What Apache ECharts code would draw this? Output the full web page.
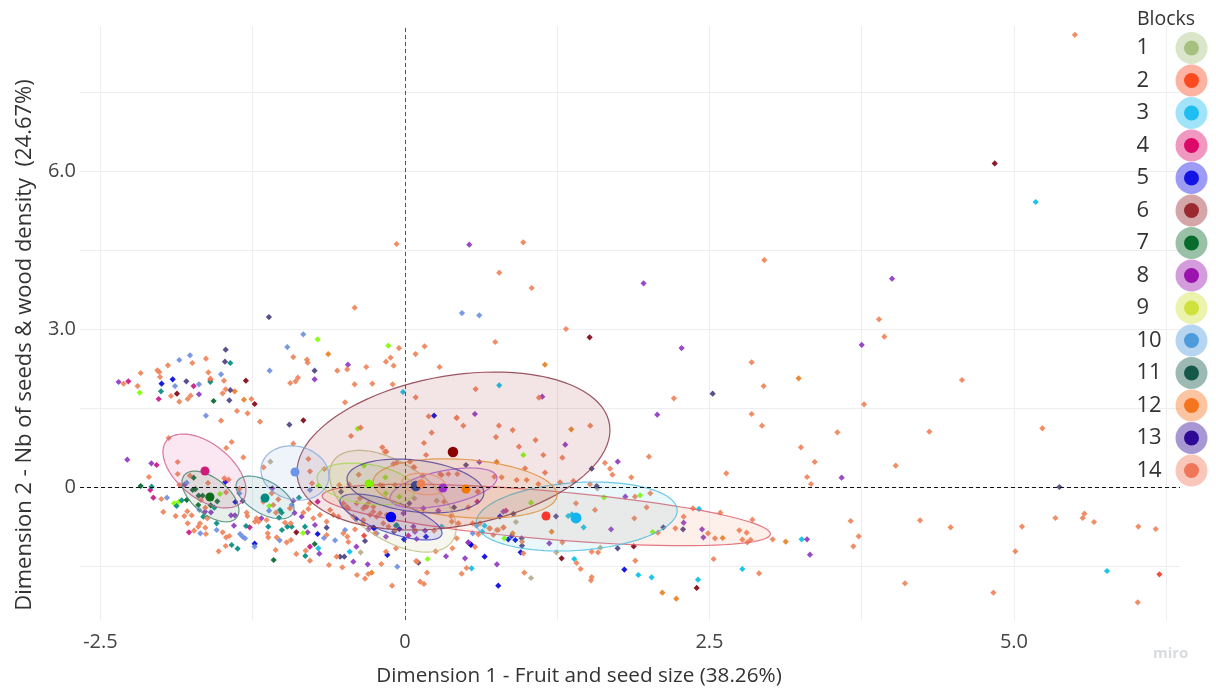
<!DOCTYPE html>
<html>
<head>
<meta charset="utf-8">
<style>html,body{margin:0;padding:0;background:#fff}#c{width:1216px;height:691px}</style>
<script src="https://cdn.jsdelivr.net/npm/echarts@6/dist/echarts.min.js"></script>
</head>
<body>
<div id="c"></div>
<script>
const blocks = ['1','2','3','4','5','6','7','8','9','10','11','12','13','14'];
const xGridValues = [-2.5,-1.25,0,1.25,2.5,3.75,5,6.25];
const yGridValues = [-1.5,0,1.5,3,4.5,6,7.5];
const xLabelValues = [-2.5,0,2.5,5];
const yLabelValues = [0,3,6];

const legendColors = ['#a7c080','#fb4b1f','#1fbdf0','#dc0a6a','#1414e6','#9a2a2f','#0a6b2b','#9a14ad','#cfe23c','#4f9bdc','#15574a','#f5751f','#2d0a96','#f0765a'];
const pointColors = ['#b8a888','#f03a30','#00bfe8','#c71585','#0000dd','#800010','#006428','#8e35c0','#7fff00','#6a8fe0','#008b80','#e88020','#483d80','#ef8157'];
const centroidColors = ['#a7b070','#f8382c','#12b5f0','#cf1a7a','#0000f0','#8b0000','#0a6b18','#9a30c8','#80f000','#6a95e8','#008b80','#f07800','#3c4a90','#f08050'];
const ellipseColors = ['#c0c088','#e0606e','#50c0e0','#d06090','#4848c8','#8a3848','#4a8868','#a858d8','#a8d850','#88aee0','#488c8c','#e09040','#584898','#e89070'];
const ellipseFills = ['#b8b880','#f07850','#40bce0','#d84890','#4040c8','#a03038','#3f8060','#b050d8','#a8d850','#80a8e0','#408888','#e88a30','#504090','#e89070'];
const ellipseAlpha = [0.13,0.12,0.11,0.13,0.13,0.13,0.13,0.09,0.12,0.13,0.13,0.12,0.08,0.1];

// ellipse: centre x, centre y, half width, y offset at the right extreme, half chord at centre
const ell1 = [-0.10,-0.27,0.52,-0.51,0.82];
const ell2 = [1.16,-0.53,1.84,-0.36,0.46];
const ell3 = [1.41,-0.56,0.825,0.114,0.645];
const ell4 = [-1.646,0.304,0.341,-0.361,0.602];
const ell5 = [-0.115,-0.569,0.419,-0.304,0.313];
const ell6 = [0.398,0.683,1.285,0.398,1.445];
const ell7 = [-1.597,-0.18,0.234,-0.266,0.40];
const ell8 = [0.316,-0.019,0.439,0.19,0.329];
const ell9 = [-0.32,0.057,0.402,-0.114,0.38];
const ell10 = [-0.903,0.266,0.279,-0.057,0.512];
const ell11 = [-1.149,-0.199,0.238,-0.218,0.342];
const ell12 = [0.493,-0.028,0.755,-0.123,0.55];
const ell13 = [0.086,0.019,0.562,-0.133,0.493];
const ell14 = [0.156,0.057,0.18,-0.04,0.2];
const ellipses = [ell1,ell2,ell3,ell4,ell5,ell6,ell7,ell8,ell9,ell10,ell11,ell12,ell13,ell14];

const centroids = [[-0.115,-0.569],[1.158,-0.55],[1.404,-0.588],[-1.642,0.304],[-0.115,-0.569],[0.394,0.664],[-1.601,-0.19],[0.312,-0.019],[-0.296,0.057],[-0.903,0.285],[-1.149,-0.209],[0.501,-0.038],[0.09,0.019],[0.131,0.057]];

const pts1 = [[-1.105,0.481],[1.579,-0.025],[0.911,-0.664],[0.077,-0.215],[0.26,-0.259],[1.243,-1.239],[1.604,-1.151],[1.035,-1.727],[-0.364,-1.24]];
const pts2 = [[6.194,-1.657],[-1.598,2.03],[-0.336,-0.923]];
const pts3 = [[5.178,5.408],[0.774,1.929],[-0.016,1.803],[3.257,-0.993],[5.764,-1.594],[2.414,-0.417],[1.467,-0.765],[1.34,-0.55],[1.37,-0.52],[0.654,-0.734],[0.635,-0.847],[1.39,-1.366],[1.916,-1.67],[2.025,-1.714],[2.406,-1.758],[2.77,-1.556],[0.547,-1.543],[0.301,-0.752],[-0.711,-1.164],[-0.454,-1.227]];
const pts4 = [[-2.271,2.005],[-1.735,1.916],[-2.022,1.67],[-2.039,0.417],[-2.091,-0.057],[-2.066,-0.202],[-1.773,-0.86],[-1.275,-0.765],[-0.78,-1.132],[-0.717,-0.278],[0.028,-0.923],[0.594,-0.278],[0.829,-0.449]];
const pts5 = [[-1.998,1.961],[-1.907,2.043],[-1.475,0.095],[-1.393,-0.285],[-1.234,-1.075],[-0.717,-0.892],[-0.402,-0.607],[-0.26,-0.772],[-0.145,-1.29],[-0.046,-0.797],[-0.008,-0.993],[0.173,-0.942],[0.239,1.354],[0.54,-1.088],[0.78,-0.556],[0.848,-0.993],[0.876,-0.93],[0.906,-1.006],[0.95,-1.239],[0.654,-1.322],[0.542,-1.1],[0.766,-1.872],[1.801,-1.568],[-0.251,-0.784]];
const pts6 = [[4.842,6.141],[1.516,2.84],[-1.306,2.017],[-1.872,1.771],[-1.234,1.575],[-0.834,1.265],[-0.892,-0.86],[1.286,-1.353],[1.878,-1.126],[2.395,-1.916]];
const pts7 = [[-1.571,1.632],[-2.17,0.019],[-1.735,0.177],[-1.743,-0.057],[-1.72,-0.04],[-1.694,-0.165],[-1.661,-0.165],[-1.792,-0.247],[-1.697,-0.342],[-1.541,-0.272],[-1.595,-0.348],[-1.078,-1.385],[-0.741,-1.082]];
const pts8 = [[3.999,3.953],[3.75,2.695],[3.585,0.177],[3.301,-0.993],[3.325,-1.284],[0.528,4.598],[1.127,1.714],[1.959,3.864],[2.271,2.637],[2.071,1.372],[0.574,1.385],[1.316,0.803],[-0.742,2.043],[-0.468,2.321],[-2.351,1.992],[-1.691,1.758],[-2.28,0.519],[-2.082,0.449],[-1.809,0.044],[-1.642,-0.468],[-1.593,-0.481],[-1.404,-0.734],[-1.428,-0.538],[-1.396,-0.538],[-1.089,-0.025],[-1.179,-0.595],[-0.917,-0.259],[-0.906,-0.493],[-0.848,-0.563],[-0.799,-0.86],[-0.703,-1.265],[-0.739,-0.721],[-0.399,-1.132],[-0.424,-1.417],[-0.306,-1.468],[-0.301,-0.803],[-0.156,-0.943],[-0.013,-0.5],[0.082,-0.848],[-0.328,-0.373],[0.069,-0.752],[0.096,-0.987],[0.165,-0.828],[0.151,-0.405],[0.274,-0.449],[0.611,0.474],[1.747,0.481],[0.52,-1.05],[0.337,-1.315],[0.493,-1.353],[0.52,-1.056],[0.807,-0.468],[0.755,-1.467],[1.185,-1.069],[1.692,-0.803],[1.809,-0.183],[2.288,-0.677],[2.439,-0.803],[2.45,-0.955]];
const pts9 = [[-0.717,2.802],[-0.137,2.682],[-2.178,1.79],[-1.519,-0.133],[-1.896,-0.31],[-1.858,-0.285],[-1.114,-0.361],[-0.837,-0.873],[-0.711,0.025],[-0.388,1.107],[-0.336,0.405],[-0.161,0.184],[-0.158,-0.12],[-0.046,-0.183],[0.186,-1.366],[0.972,0.607],[1.035,-0.297],[0.816,-0.974],[1.634,-0.196],[1.93,-0.158],[2.034,-0.854]];
const pts10 = [[0.468,3.301],[0.61,3.257],[-0.835,2.897],[-0.966,2.656],[-1.111,2.207],[-1.765,2.498],[-1.853,2.41],[-1.51,2.138],[-1.888,1.916],[-1.691,1.948],[-1.634,1.353],[-1.792,0.082],[-1.954,-0.202],[-1.36,-0.12],[-1.688,-0.437],[-1.68,-0.879],[-1.546,-0.816],[-1.354,-0.892],[-1.333,-0.943],[-1.313,-0.974],[-1.234,-1.132],[-1.116,-0.449],[-1.029,-1.012],[-0.93,-0.342],[-0.78,-0.057],[-0.665,-0.968],[-0.574,-1.012],[-0.492,-0.816],[-0.063,-1.512],[0.556,-0.879],[0.588,-0.734],[-0.232,-0.879]];
const pts11 = [[-1.434,2.353],[-2.003,1.815],[-1.598,1.992],[-2.08,0.006],[-1.833,-0.253],[-1.875,-0.361],[-1.565,-0.392],[-1.656,-0.563],[-1.546,-0.689],[-1.423,-1.101],[-1.374,-1.17],[-1.305,-0.74],[-1.122,-0.753],[-1.026,-0.437],[-1.012,-0.487],[-1.034,-0.582],[-0.87,-0.202],[-1.01,-0.816],[-0.966,-0.753],[-0.93,-0.753],[-0.821,-0.753],[-0.818,-1.309],[-0.074,-0.734],[-0.068,-0.721]];
const pts12 = [[3.232,2.062],[3.126,-1.037],[1.149,2.321],[1.365,1.094],[-0.63,2.523],[-1.398,1.815],[-1.322,1.657],[-0.273,-1.626],[0.753,0.475],[1.204,-0.847],[0.884,-0.879],[2.608,-0.968],[2.113,-2.005],[2.228,-2.119]];
const pts13 = [[5.373,0],[2.526,1.771],[-1.117,3.225],[-0.742,2.207],[-1.472,2.606],[-1.478,2.378],[-1.795,2.005],[-1.434,1.84],[-1.442,1.644],[-0.949,1.183],[-1.333,-0.266],[-0.643,-0.772],[-0.533,-1.322],[-0.498,-1.322],[-0.328,-1.025],[-0.09,-0.848],[0.11,-1.436],[-0.525,-0.088],[0.036,-0.31],[0.501,0.417],[0.403,-0.386],[1.533,0.348],[1.574,0.019],[0.89,-0.512],[0.961,-1.113],[1.24,-0.556],[1.746,-1.164],[2.121,-0.765],[2.283,-0.803],[0.958,-0.974]];
const pts14 = [[5.5,8.58],[3.892,3.181],[3.936,2.853],[4.573,2.03],[3.769,1.569],[3.55,1.037],[4.305,1.05],[5.233,1.113],[3.251,0.753],[3.364,0.475],[4.029,0.405],[3.301,0.19],[3.334,0.057],[3.659,-0.645],[4.229,-0.632],[4.48,-0.765],[5.066,-0.752],[5.34,-0.588],[5.564,-0.588],[5.578,-0.506],[5.657,-0.664],[6.021,-0.752],[6.164,-0.797],[3.725,-0.936],[3.681,-1.126],[5.011,-1.221],[4.105,-1.828],[4.831,-2.005],[6.016,-2.188],
[0.971,4.642],[0.774,4.067],[1.04,3.776],[1.322,2.998],[0.741,2.751],[0.58,1.859],[1.1,1.695],[2.95,4.307],[2.846,2.365],[2.945,1.916],[2.208,1.682],[2.846,1.385],[2.931,1.164],[0.424,1.309],[0.479,1.164],[0.771,1.164],[0.884,1.081],[0.747,0.948],[1.072,0.891],[1.521,1.164],[0.936,0.765],[0.284,2.277],
[-0.069,4.611],[-0.413,3.403],[-0.917,2.466],[-0.805,2.416],[-0.799,2.359],[-0.049,2.637],[0.161,2.669],[0.087,2.523],[-0.118,2.454],[-0.156,2.378],[-0.093,2.302],[-0.474,2.232],[-0.318,2.277],[-0.556,2.207],[-0.879,2.074],[-0.898,2.005],[-0.942,1.973],[-0.413,1.948],[-0.268,1.96],[-0.101,1.948],
[-1.746,2.353],[-1.634,2.435],[-1.946,2.309],[-2.17,2.163],[-2.033,2.214],[-2.017,2.182],[-2.011,2.087],[-2.31,1.961],[-2.195,1.916],[-1.614,2.176],[-1.598,2.055],[-1.486,2.018],[-1.921,1.727],[-1.853,1.619],[-1.784,1.67],[-1.76,1.733],[-1.472,1.853],[-1.497,1.777],[-1.261,1.67],[-1.379,1.442],[-1.292,1.398],[-1.51,1.259],[-1.19,1.24],[-0.364,1.126],[-0.492,1.606],[-0.443,0.968],[-1.94,0.93],[-1.423,0.854],[-1.467,0.74],[-1.327,0.563],[-1.866,0.474],[-2.102,0.19],[-1.866,0.247],[-2,-0.228],[-1.16,0.373],[-0.917,0.822],[-0.793,0.531],[-0.78,0.297],[-0.662,0.341],[-0.763,0.069],[-0.38,0.234],[-0.186,0.753],[-0.153,0.67],[-0.068,0.462],[0.088,1.701],
[-1.765,0.215],[-1.483,0.164],[-1.448,0.139],[-1.617,0.076],[-1.853,0.038],[-1.62,-0.196],[-1.469,-0.101],[-1.36,-0.038],[-1.675,-0.247],[-1.984,-0.474],[-1.883,-0.551],[-1.812,-0.551],[-1.787,-0.462],[-1.751,-0.538],[-1.639,-0.392],[-1.623,-0.595],[-1.784,-0.689],[-1.683,-0.689],[-1.639,-0.772],[-1.697,-0.753],[-1.732,-0.829],[-1.634,-0.892],[-1.497,-0.86],[-1.469,-0.955],[-1.442,-0.93],[-1.472,-1.12],[-1.53,-1.221],
[-1.094,-0.12],[-1.3,-0.487],[-1.294,-0.551],[-1.163,-0.278],[-1.081,-0.342],[-1.04,-0.234],[-1.059,-0.487],[-0.944,-0.405],[-1.218,-0.595],[-1.231,-0.658],[-1.201,-0.658],[-1.136,-0.626],[-0.985,-0.677],[-0.938,-0.689],[-1.127,-0.879],[-1.122,-0.955],[-1.053,-0.955],[-1.062,-1.196],[-0.971,-1.05],[-0.936,-1.006],[-0.892,-1.271],[-0.78,-1.398],[-0.815,-1.208],[-0.624,-1.48],[-0.561,-1.322],[-0.514,-1.524],[-0.394,-1.67],[-0.328,-1.739],[-0.301,-1.651],[-0.194,-1.461],[-0.106,-1.872],[-0.156,-1.227],[-0.074,-1.164],[0.091,-1.404],[-0.752,-0.595],[-0.643,-0.911],[-0.506,-0.879],[-0.473,-0.943],[-0.465,-1.044],[-0.41,-0.803],[-0.246,-0.879],[-0.793,-0.417],[-0.834,-0.487],[-0.78,-0.31],[-0.698,-0.531],[-0.643,-0.658],[-0.615,-0.437],[-0.588,-0.531],[-0.547,-0.563],[-0.342,-0.689],[-0.424,-0.563],[-0.479,-0.373],[-0.315,-0.373],[-0.26,-0.468],[-0.396,-0.31],
[0.195,1.341],[0.425,1.316],[0.219,1.031],[0.156,0.835],[0.173,0.607],[1.136,0.607],[1.292,0.557],[1.642,0.456],[1.684,0.348],[1.703,0.234],[0.986,0.354],[1.15,0.272],[0.917,0.133],[0.999,0.133],[0.794,0.184],[0.734,0.196],[1.095,0.057],[1.273,0.089],[1.383,0.114],[0.301,0.228],[0.288,0.247],[0.43,0.247],[0.356,0.247],[0.069,0.373],[-0.095,0.437],[-0.164,0.671],[-0.539,0.038],[-0.459,0.051],[-0.369,-0.215],[-0.205,0.038],[-0.082,0.038],[-0.186,0.025],[0.137,0.095],[0.145,0.215],[0.041,0.481],[0.077,0.373],[0.597,-0.089],[0.321,-0.278],[0.52,-0.386],[0.378,-0.55],[0.438,-0.689],
[-0.506,-0.31],[-0.465,-0.405],[-0.342,-0.405],[-0.301,-0.31],[-0.26,-0.373],[-0.205,-0.499],[-0.287,-0.531],[-0.232,-0.563],[-0.15,-0.531],[-0.095,-0.626],[-0.178,-0.689],[-0.136,-0.752],[-0.082,-0.816],[0.082,-0.816],[0.239,-0.828],[-0.342,-0.626],[0.384,-0.658],[0.425,-0.974],[0.252,-1.221],[0.389,-1.164],[0.616,-0.689],[0.698,-0.784],[0.753,-0.816],[0.808,-0.771],
[2.003,0.576],[1.858,0.184],[2.638,0.26],[1.519,0.051],[1.888,-0.183],[2.014,-0.12],[1.404,-0.31],[1.56,-0.436],[1.984,-0.386],[1.883,-0.594],[2.365,-0.405],[2.589,-0.487],[2.288,-0.563],[2.22,-0.784],[2.852,-0.62],[2.488,-0.879],[2.545,-0.974],[2.745,-0.822],[2.805,-0.866],[2.77,-1],[2.811,-1.05],[2.838,-1.005],[3.019,-0.993],[1.292,-1.05],[2.077,-0.866],[0.725,-0.911],[0.81,-0.765],[0.766,-0.816],[0.692,-0.784],[0.602,-0.898],[0.961,-1.037],[0.972,-1.258],[1.409,-1.442],[1.442,-1.556],[1.533,-1.227],[1.585,-1.239],[1.891,-1.398],[1.533,-1.708],[1.527,-1.771],[2.534,-1.366],[2.907,-1.638],[0.98,-1.625],[0.506,-1.537],[0.465,-1.644],[0.575,-1.138],[0.599,-0.088],[0.556,-0.689],[0.099,-1.417],[0.181,-1.625],[0.124,-1.796],[0.156,-1.84]];
const pointSets = [pts1,pts2,pts3,pts4,pts5,pts6,pts7,pts8,pts9,pts10,pts11,pts12,pts13,pts14];

function ellipseRenderer(stroke, fill, alpha){
  return function(params, api){
    const cx=api.value(0), cy=api.value(1), w=api.value(2), s=api.value(3), k=api.value(4);
    const points=[];
    for(let i=0;i<96;i++){
      const t=i/96*Math.PI*2;
      points.push(api.coord([cx+w*Math.cos(t), cy+s*Math.cos(t)+k*Math.sin(t)]));
    }
    return {type:'polygon',shape:{points},style:{fill:fill,fillOpacity:alpha,stroke:stroke,strokeOpacity:0.85,lineWidth:1.2}};
  };
}

const series=[];
// points are drawn behind the translucent ellipses
blocks.forEach((b,i)=>{
  series.push({type:'scatter',name:b,data:pointSets[i],symbol:'diamond',symbolSize:6.2,z:2,silent:true,itemStyle:{color:pointColors[i],opacity:0.9}});
});
blocks.forEach((b,i)=>{
  series.push({type:'custom',name:b,data:[ellipses[i]],renderItem:ellipseRenderer(ellipseColors[i],ellipseFills[i],ellipseAlpha[i]),z:3,silent:true,clip:true,itemStyle:{color:legendColors[i]},animation:false});
});
blocks.forEach((b,i)=>{
  series.push({type:'scatter',name:b,data:[centroids[i]],symbol:'circle',symbolSize:b==='3'?11:(b==='6'||b==='5'||b==='13'?10.5:9),z:4,silent:true,itemStyle:{color:centroidColors[i],opacity:1}});
});
series.push({type:'scatter',name:'ref',data:[],z:5,silent:true,markLine:{silent:true,symbol:'none',label:{show:false},animation:false,
  data:[{yAxis:0,lineStyle:{color:'#111',type:[4,3],width:1}},{xAxis:0,lineStyle:{color:'#555',type:[4,3],width:1}}]}});

const font='"Open Sans", sans-serif';
const chart=echarts.init(document.getElementById('c'),null,{renderer:'canvas'});
chart.setOption({
  animation:false,
  backgroundColor:'#fff',
  textStyle:{fontFamily:font},
  title:{text:'Blocks',left:1137,top:9,padding:0,textStyle:{fontSize:19.5,fontWeight:'normal',color:'#333',fontFamily:font}},
  legend:{
    orient:'vertical',right:8.5,top:32,padding:0,align:'right',icon:'circle',itemWidth:15,itemHeight:15,itemGap:0.5,selectedMode:false,
    data:blocks.map((b,i)=>({name:b,itemStyle:{color:legendColors[i],borderColor:echarts.color.modifyAlpha(legendColors[i],0.42),borderWidth:17,opacity:1}})),
    formatter:n=>'{a|'+n+'}',
    textStyle:{fontFamily:font,rich:{a:{width:42.5,align:'left',fontSize:22,lineHeight:22,color:'#333',fontFamily:font}}}
  },
  grid:{left:80,right:36,top:26,bottom:71,outerBoundsMode:'none',containLabel:false},
  xAxis:{type:'value',min:-2.668,max:6.363,
    name:'Dimension 1 - Fruit and seed size (38.26%)',nameLocation:'middle',nameGap:46,
    nameTextStyle:{fontSize:20.7,color:'#333',fontFamily:font,padding:[0,102,0,0]},
    axisLine:{show:false},
    axisTick:{show:false,customValues:xGridValues},
    splitLine:{show:true,lineStyle:{color:'#eceef0',width:1}},
    axisLabel:{customValues:xLabelValues,margin:12,fontSize:20,color:'#444',fontFamily:font,formatter:v=>v===0?'0':v.toFixed(1),hideOverlap:false}
  },
  yAxis:{type:'value',min:-2.524,max:8.748,
    name:'Dimension 2 - Nb of seeds & wood density  (24.67%)',nameLocation:'middle',nameGap:44,
    nameTextStyle:{fontSize:22,color:'#333',fontFamily:font,padding:[0,44,0,0]},
    axisLine:{show:false},
    axisTick:{show:false,customValues:yGridValues},
    splitLine:{show:true,lineStyle:{color:'#eceef0',width:1}},
    axisLabel:{customValues:yLabelValues,margin:4,fontSize:20,color:'#444',fontFamily:font,formatter:v=>v===0?'0':v.toFixed(1),hideOverlap:false}
  },
  graphic:[{type:'text',left:1153,top:646,silent:true,style:{text:'miro',fill:'#d8dbe0',font:'bold 15px "Open Sans", sans-serif'}}],
  series
});
</script>
</body>
</html>
